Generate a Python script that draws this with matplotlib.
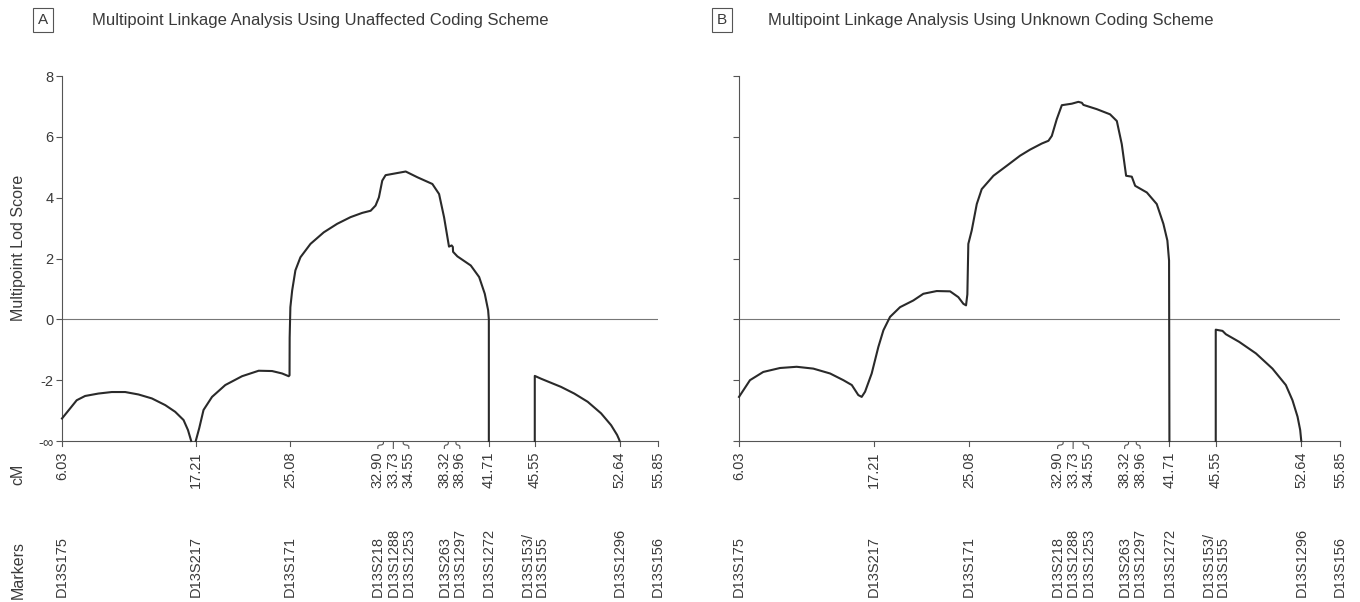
import numpy as np
import matplotlib
matplotlib.use("Agg")
import matplotlib.pyplot as plt
from matplotlib.transforms import blended_transform_factory
from matplotlib.path import Path
from matplotlib.patches import PathPatch

NEG_INF = -np.inf

# ---------------- data ----------------
marker_cm = [6.03, 17.21, 25.08, 32.90, 33.73, 34.55, 38.32, 38.96, 41.71, 45.55, 52.64, 55.85]
marker_names = ["D13S175", "D13S217", "D13S171", "D13S218", "D13S1288", "D13S1253",
                "D13S263", "D13S1297", "D13S1272", "D13S153/\nD13S155", "D13S1296", "D13S156"]
cm_labels = ["6.03", "17.21", "25.08", "32.90", "33.73", "34.55",
             "38.32", "38.96", "41.71", "45.55", "52.64", "55.85"]

ytick_vals = [-4, -2, 0, 2, 4, 6, 8]
ytick_labels = ["-\u221e", "-2", "0", "2", "4", "6", "8"]

title_a = "Multipoint Linkage Analysis Using Unaffected Coding Scheme"
title_b = "Multipoint Linkage Analysis Using Unknown Coding Scheme"

# Panel A segments (lod score; -inf = minus infinity)
a1_x = [6.03, 7.26, 7.96, 9.07, 10.19, 11.31, 12.42, 13.54, 14.66, 15.49, 16.19, 16.56, 16.83]
a1_y = [-3.26, -2.66, -2.52, -2.44, -2.39, -2.39, -2.47, -2.60, -2.82, -3.04, -3.31, -3.64, NEG_INF]

a2_x = [17.21, 17.50, 17.86, 18.57, 19.68, 21.08, 22.47, 23.59, 24.43, 24.98, 25.05, 25.06,
        25.12, 25.27, 25.54, 25.96, 26.80, 27.91, 29.03, 30.15, 31.13, 31.83, 32.24, 32.52,
        32.80, 33.08, 33.92, 34.76, 35.74, 36.99, 37.55, 37.97, 38.38, 38.60, 38.70, 38.72,
        39.08, 40.20, 40.90, 41.37, 41.65, 41.71, 41.71]
a2_y = [NEG_INF, -3.58, -2.98, -2.55, -2.16, -1.87, -1.69, -1.70, -1.78, -1.87, -1.84, -0.60,
        0.40, 0.95, 1.61, 2.04, 2.48, 2.86, 3.14, 3.36, 3.50, 3.57, 3.74, 4.01,
        4.56, 4.74, 4.80, 4.86, 4.67, 4.45, 4.12, 3.35, 2.39, 2.43, 2.38, 2.22,
        2.07, 1.77, 1.39, 0.84, 0.30, 0.00, NEG_INF]

a3_x = [45.55, 45.55, 46.06, 46.68, 47.74, 48.85, 49.97, 51.09, 51.93, 52.43, 52.60, 52.64]
a3_y = [NEG_INF, -1.86, -1.95, -2.05, -2.22, -2.44, -2.71, -3.09, -3.48, -3.80, -3.95, NEG_INF]

# Panel B segments
b1_x = [6.03, 6.94, 8.04, 9.43, 10.81, 12.19, 13.58, 14.68, 15.38, 15.92, 16.20, 16.48,
        17.03, 17.58, 18.00, 18.55, 19.38, 20.48, 21.31, 22.42, 23.53, 24.21, 24.63, 24.85,
        24.96, 25.04, 25.32, 25.74, 26.15, 27.12, 28.23, 29.33, 30.16, 31.13, 31.68, 31.96,
        32.37, 32.79, 33.62, 34.16, 34.45, 34.58, 35.69, 36.79, 37.35, 37.76, 38.12, 38.59,
        38.87, 39.84, 40.66, 41.21, 41.54, 41.68, 41.71]
b1_y = [-2.55, -2.00, -1.73, -1.60, -1.56, -1.62, -1.78, -2.00, -2.16, -2.49, -2.55, -2.38,
        -1.78, -0.91, -0.36, 0.08, 0.40, 0.62, 0.84, 0.93, 0.92, 0.73, 0.51, 0.46,
        0.82, 2.48, 2.92, 3.79, 4.28, 4.72, 5.05, 5.38, 5.58, 5.78, 5.87, 6.03,
        6.58, 7.04, 7.09, 7.15, 7.12, 7.05, 6.91, 6.74, 6.52, 5.76, 4.72, 4.69,
        4.39, 4.17, 3.79, 3.14, 2.59, 1.93, NEG_INF]

b2_x = [45.55, 45.55, 46.11, 46.39, 47.49, 48.88, 50.25, 51.36, 51.91, 52.33, 52.55, 52.64]
b2_y = [NEG_INF, -0.34, -0.38, -0.49, -0.74, -1.12, -1.62, -2.16, -2.66, -3.20, -3.64, NEG_INF]

# ---------------- style ----------------
FIG_W, FIG_H, DPI = 13.6, 6.02, 100
YMIN, YMAX = -4, 8
XMIN, XMAX = marker_cm[0], marker_cm[-1]
TXT = "#3a3a3a"
AX = "#555555"
CURVE = "#2a2a2a"
FONT = ["Liberation Sans", "DejaVu Sans"]
plt.rcParams["font.family"] = FONT

fig = plt.figure(figsize=(FIG_W, FIG_H), dpi=DPI)
W_PX, H_PX = FIG_W * DPI, FIG_H * DPI


def px2fig(x, y):
    return x / W_PX, 1 - y / H_PX


axA = fig.add_axes([62 / W_PX, 161 / H_PX, 596 / W_PX, 365 / H_PX])
axB = fig.add_axes([739 / W_PX, 161 / H_PX, 601 / W_PX, 365 / H_PX])


def spread(positions, min_sep):
    groups = [[i] for i in range(len(positions))]
    labels = list(positions)
    changed = True
    while changed:
        changed = False
        new_groups = [groups[0]]
        for g in groups[1:]:
            prev = new_groups[-1]
            if labels[g[0]] - labels[prev[-1]] < min_sep - 1e-9:
                new_groups[-1] = prev + g
                changed = True
            else:
                new_groups.append(g)
        groups = new_groups
        for g in groups:
            if len(g) > 1:
                m = np.mean([positions[i] for i in g])
                n = len(g)
                for k, i in enumerate(g):
                    labels[i] = m + (k - (n - 1) / 2) * min_sep
    return labels


def setup(ax, segs_x, segs_y, show_ylabels, axw_px):
    ax.set_xlim(XMIN, XMAX)
    ax.set_ylim(YMIN, YMAX)
    for s in ["top", "right"]:
        ax.spines[s].set_visible(False)
    for s in ["left", "bottom"]:
        ax.spines[s].set_color(AX)
        ax.spines[s].set_linewidth(0.8)
    ax.set_xticks([])
    ax.set_yticks(ytick_vals)
    ax.tick_params(axis="y", direction="out", length=4, width=0.8, color=AX,
                   labelsize=10.5, labelcolor=TXT, pad=2)
    if show_ylabels:
        ax.set_yticklabels(ytick_labels)
    else:
        ax.set_yticklabels([])
    ax.axhline(0, color="#777777", lw=0.8, zorder=1)
    for xs, ys in zip(segs_x, segs_y):
        yy = np.clip(np.array(ys, dtype=float), YMIN, None)
        ax.plot(xs, yy, color=CURVE, lw=1.5, solid_joinstyle="round", clip_on=False, zorder=3)

    trans = blended_transform_factory(ax.transData, ax.transAxes)
    ax_h = 365.0
    cm_per_px = (XMAX - XMIN) / axw_px
    lab_x = spread(marker_cm, 15.5 * cm_per_px)
    py = lambda p: -p / ax_h
    for xt, xl, cl, mn in zip(marker_cm, lab_x, cm_labels, marker_names):
        if abs(xt - xl) < 1e-6:
            ax.plot([xt, xt], [0, py(5)], transform=trans, color=AX, lw=0.8, clip_on=False)
        else:
            verts = [(xt, 0), (xt, py(2)), (xt, py(4)), (0.5 * (xt + xl), py(4)),
                     (xl, py(4)), (xl, py(6)), (xl, py(8))]
            codes = [Path.MOVETO, Path.LINETO, Path.CURVE3, Path.CURVE3,
                     Path.CURVE3, Path.CURVE3, Path.LINETO]
            patch = PathPatch(Path(verts, codes), transform=trans, fc="none", ec=AX,
                              lw=0.8, clip_on=False)
            ax.add_patch(patch)
        ax.text(xl, py(10), cl, transform=trans, rotation=90, ha="center", va="top",
                fontsize=10.5, color=TXT)
        ax.text(xl, py(156), mn, transform=trans, rotation=90, ha="center", va="bottom",
                fontsize=10.5, color=TXT, multialignment="left", linespacing=1.0)


setup(axA, [a1_x, a2_x, a3_x], [a1_y, a2_y, a3_y], True, 596)
setup(axB, [b1_x, b2_x], [b1_y, b2_y], False, 601)

axA.set_ylabel("Multipoint Lod Score", fontsize=11.5, color=TXT)
axA.yaxis.set_label_coords(-0.061, 0.53)

fx, fy = px2fig(18, 474)
fig.text(fx, fy, "cM", rotation=90, ha="center", va="center", fontsize=11.5, color=TXT)
fx, fy = px2fig(18, 570)
fig.text(fx, fy, "Markers", rotation=90, ha="center", va="center", fontsize=11.5, color=TXT)

for bx, tx, letter, title in [(43, 92, "A", title_a), (722, 768, "B", title_b)]:
    fx, fy = px2fig(bx, 20)
    fig.text(fx, fy, letter, ha="center", va="center", fontsize=11, color=TXT,
             bbox=dict(boxstyle="square,pad=0.3", fc="none", ec=AX, lw=0.8))
    fx, fy = px2fig(tx, 20)
    fig.text(fx, fy, title, ha="left", va="center", fontsize=12, color=TXT)

fig.savefig("out.png", dpi=DPI)
